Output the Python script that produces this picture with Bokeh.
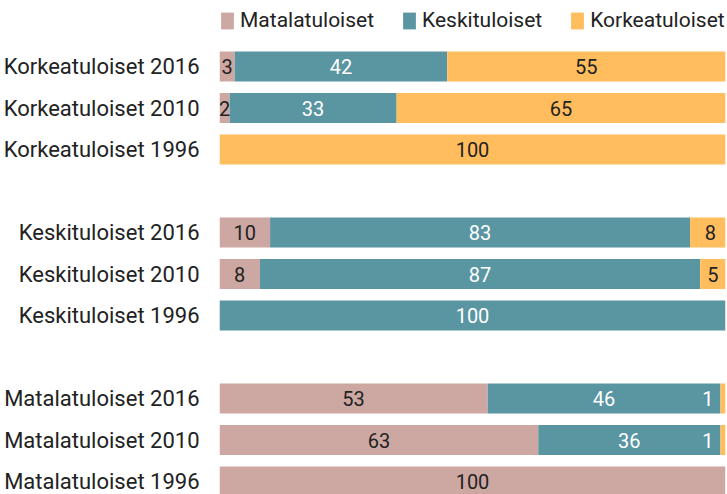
from bokeh.plotting import figure
from bokeh.models import ColumnDataSource, Range1d, FixedTicker, Legend, LegendItem
from bokeh.embed import file_html
from bokeh.resources import INLINE
from bokeh.core.properties import value

# ---- data ----
categories = ["Korkeatuloiset 2016", "Korkeatuloiset 2010", "Korkeatuloiset 1996",
              "Keskituloiset 2016", "Keskituloiset 2010", "Keskituloiset 1996",
              "Matalatuloiset 2016", "Matalatuloiset 2010", "Matalatuloiset 1996"]
matala = [3, 2, 0, 10, 8, 0, 53, 63, 100]
keski = [42, 33, 0, 83, 87, 100, 46, 36, 0]
korkea = [55, 65, 100, 8, 5, 0, 1, 1, 0]
series_names = ["Matalatuloiset", "Keskituloiset", "Korkeatuloiset"]
colors = ["#cda8a2", "#5a95a2", "#ffbd5e"]
text_colors = ["#222222", "#ffffff", "#222222"]

# row positions: one empty row between groups
rows = []
for i in range(len(categories)):
    rows.append(i + i // 3)

FONT = "Roboto"

p = figure(width=727, height=494, output_backend="svg", toolbar_location=None,
           x_range=Range1d(0, 100), y_range=Range1d(10.313, -1.3976),
           min_border_left=219, min_border_right=2, min_border_top=8, min_border_bottom=0,
           outline_line_color=None, background_fill_color="white")

series = [matala, keski, korkea]
left = [0] * len(categories)
renderers = []
lab_x, lab_y, lab_t, lab_c = [], [], [], []
for s, vals in enumerate(series):
    right = [l + v for l, v in zip(left, vals)]
    src = ColumnDataSource(dict(y=rows, left=left, right=right))
    r = p.hbar(y="y", left="left", right="right", height=0.72, source=src,
               fill_color=colors[s], line_color=colors[s], line_width=0)
    renderers.append(r)
    for i, v in enumerate(vals):
        if v <= 0:
            continue
        cx = left[i] + v / 2
        col = text_colors[s]
        if right[i] >= 100 and v < 3:
            cx = 100 - 3.5
            # label falls on the previous segment
            col = text_colors[s - 1]
        lab_x.append(cx)
        lab_y.append(rows[i])
        lab_t.append(str(v))
        lab_c.append(col)
    left = right

lsrc = ColumnDataSource(dict(x=lab_x, y=lab_y, t=lab_t, c=lab_c))
p.text(x="x", y="y", text="t", text_color="c", source=lsrc, text_align="center",
       text_baseline="middle", text_font=value(FONT), text_font_size="20px")

legend = Legend(items=[LegendItem(label=n, renderers=[r]) for n, r in zip(series_names, renderers)],
                orientation="horizontal", location="top_left", margin=0, padding=0,
                spacing=27, label_standoff=5, glyph_width=16, glyph_height=21,
                label_height=21, label_text_font=FONT, label_text_font_size="21px",
                label_text_color="#222222", background_fill_alpha=0, border_line_color=None)
p.add_layout(legend)

p.xaxis.visible = False
p.xgrid.visible = False
p.ygrid.visible = False
ax = p.yaxis[0]
ax.ticker = FixedTicker(ticks=rows)
ax.major_label_overrides = {r: c for r, c in zip(rows, categories)}
ax.axis_line_color = None
ax.major_tick_line_color = None
ax.minor_tick_line_color = None
ax.major_label_standoff = 14
ax.major_label_text_font = FONT
ax.major_label_text_font_size = "22px"
ax.major_label_text_color = "#222222"

open("out.html", "w").write(file_html(p, INLINE))
